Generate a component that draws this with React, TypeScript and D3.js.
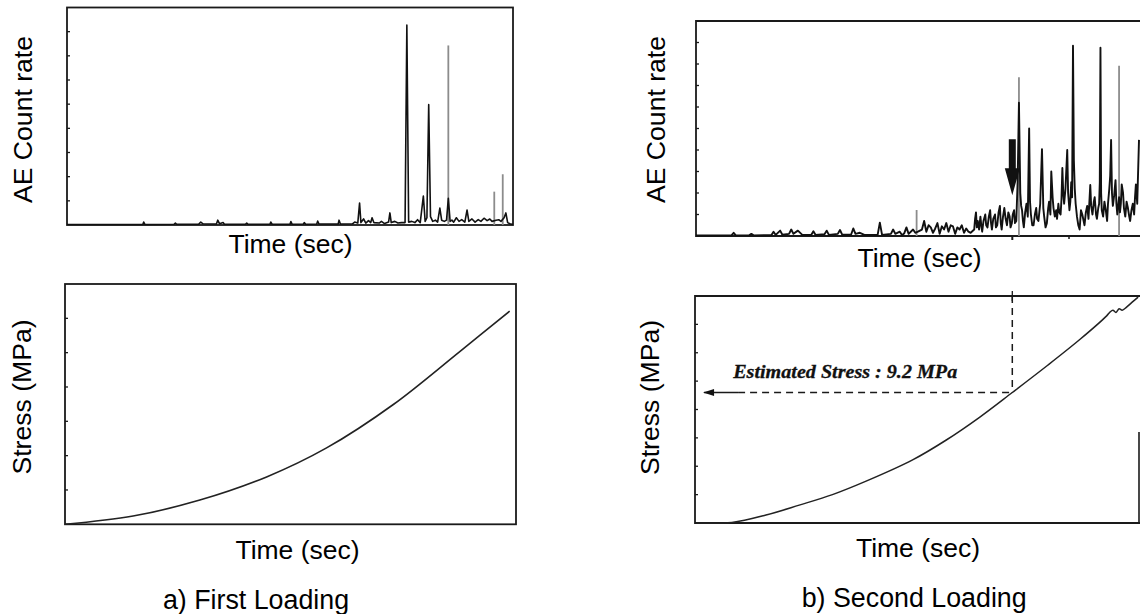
import React from "react";
import * as d3 from "d3";

type P = [number, number];

// ---------- DATA ----------
// a) First loading – AE count rate trace (time %, count-rate tick units)
const firstAeTrace: P[] = [
  [0, 0.02], [10, 0.02], [17, 0.02], [17.2, 0.12], [17.5, 0.02], [24, 0.03], [24.3, 0.08], [24.6, 0.03],
  [29.5, 0.03], [30, 0.12], [30.5, 0.05], [33.5, 0.04], [33.8, 0.2], [34.2, 0.05], [35, 0.1], [35.3, 0.03],
  [40, 0.03], [40.3, 0.08], [40.6, 0.03], [45.5, 0.03], [45.7, 0.12], [46, 0.03], [50, 0.03], [50.2, 0.14],
  [50.5, 0.03], [53, 0.04], [53.2, 0.1], [53.5, 0.03], [56, 0.04], [56.2, 0.16], [56.5, 0.04], [60.8, 0.04],
  [61, 0.2], [61.3, 0.04], [64, 0.05], [64.5, 0.12], [65.2, 0.08], [65.6, 0.91], [65.9, 0.1], [66.5, 0.25],
  [67, 0.08], [67.6, 0.18], [68.1, 0.1], [68.4, 0.3], [68.8, 0.1], [70, 0.08], [70.5, 0.15], [71.2, 0.06],
  [72.1, 0.12], [72.4, 0.5], [72.7, 0.1], [73.5, 0.15], [74.2, 0.08], [75, 0.1], [75.8, 0.1], [76.2, 8.27],
  [76.6, 0.12], [77.3, 0.15], [78, 0.1], [78.6, 0.22], [79.2, 0.1], [79.9, 1.2], [80.3, 0.15], [80.7, 0.3],
  [81.1, 4.98], [81.5, 0.35], [82, 0.15], [82.6, 0.2], [83.1, 0.12], [83.6, 0.7], [84, 0.2], [84.6, 0.15],
  [85.1, 0.2], [85.5, 1.1], [85.9, 0.15], [86.3, 0.2], [86.7, 0.12], [87.3, 0.3], [87.9, 0.15], [88.5, 0.22],
  [89.2, 0.12], [89.7, 0.62], [90.1, 0.15], [90.8, 0.25], [91.5, 0.12], [92.2, 0.22], [92.8, 0.15], [93.5, 0.28],
  [94.2, 0.18], [94.8, 0.25], [95.3, 0.15], [96.2, 0.2], [96.8, 0.22], [97.3, 0.15], [98, 0.3], [98.4, 0.5],
  [98.8, 0.1], [99.3, 0.05], [100, 0.02],
];
const firstAeLightPeaks: P[] = [[85.5, 7.43], [95.8, 1.38], [97.7, 2.1]];
const firstAeTicks = [1, 2, 3, 4, 5, 6, 7, 8];

// a) First loading – stress (MPa)
const firstStress: P[] = [
  [0, 0], [15.1, 0.48], [29.9, 1.41], [44.7, 2.76], [58.0, 4.45], [72.8, 6.98], [87.6, 10.08], [98.6, 12.42],
];
const firstStressTicks = [2, 4, 6, 8, 10, 12];

// b) Second loading – AE count rate trace
const secondAeTrace: P[] = [
  [0, 0.02], [5, 0.02], [8, 0.03], [8.5, 0.15], [9, 0.03], [12, 0.03], [12.5, 0.1], [13, 0.03], [17, 0.04],
  [17.5, 0.2], [18, 0.05], [19, 0.25], [19.5, 0.06], [21, 0.1], [21.5, 0.3], [22, 0.1], [23, 0.25], [24, 0.05],
  [26, 0.05], [26.5, 0.22], [27, 0.05], [29, 0.08], [29.5, 0.25], [30, 0.05], [32, 0.1], [32.5, 0.28], [33, 0.06],
  [35, 0.06], [35.5, 0.35], [36, 0.1], [37, 0.15], [38, 0.05], [41, 0.05], [41.5, 0.62], [42, 0.05], [44, 0.1],
  [44.5, 0.3], [45, 0.1], [46, 0.2], [46.5, 0.05], [47, 0.12], [47.5, 0.4], [48, 0.1], [49, 0.3], [49.5, 0.15],
  [50.1, 0.2], [51, 0.3], [51.5, 0.7], [52, 0.2], [52.5, 0.5], [53, 0.4], [53.5, 0.15], [54, 0.35], [54.5, 0.6],
  [55, 0.1], [55.5, 0.45], [56, 0.3], [56.5, 0.6], [57, 0.2], [57.5, 0.5], [58, 0.45], [58.5, 0.1], [59, 0.4],
  [59.5, 0.3], [60, 0.5], [60.5, 0.15], [61, 0.35], [61.5, 0.2], [62, 0.15], [62.8, 0.3], [63.0, 0.8],
  [63.2, 1.1], [63.4, 0.4], [63.6, 0.7], [63.9, 0.3], [64.2, 0.9], [64.4, 0.5], [64.6, 0.2], [64.9, 0.7],
  [65.3, 1.0], [65.5, 0.5], [65.8, 0.4], [66.1, 0.9], [66.4, 1.2], [66.6, 0.6], [66.8, 0.3], [67.1, 0.8],
  [67.5, 1.0], [67.7, 0.4], [68, 0.5], [68.3, 1.1], [68.6, 1.4], [68.8, 0.6], [69, 0.3], [69.3, 0.9],
  [69.6, 1.3], [69.9, 0.8], [70.2, 0.5], [70.5, 1.1], [70.8, 0.9], [71.0, 0.4], [71.3, 0.6], [71.5, 1.0],
  [71.8, 1.2], [72.0, 0.6], [72.3, 0.7], [72.6, 2.5], [72.9, 6.2], [73.2, 2.0], [73.4, 1.4], [73.6, 1.2],
  [73.8, 0.7], [74, 0.4], [74.3, 1.1], [74.6, 1.5], [74.9, 0.9], [75.2, 5.0], [75.4, 1.6], [75.6, 1.0],
  [75.9, 0.5], [76.2, 0.5], [76.5, 1.0], [76.8, 1.3], [77.0, 0.8], [77.3, 0.7], [77.7, 1.5], [78.1, 4.04],
  [78.4, 1.3], [78.6, 0.9], [78.9, 0.4], [79.2, 0.6], [79.5, 1.3], [79.7, 1.6], [80.0, 1.0], [80.2, 3.0],
  [80.5, 1.8], [80.7, 1.3], [81.0, 0.9], [81.3, 1.2], [81.5, 0.8], [81.8, 1.5], [82.0, 1.1], [82.3, 1.0],
  [82.5, 1.7], [82.7, 3.16], [82.9, 2.0], [83.1, 1.5], [83.4, 2.2], [83.8, 4.0], [84.0, 2.0], [84.3, 1.2],
  [84.5, 1.6], [84.7, 2.5], [84.9, 1.8], [85.1, 8.85], [85.3, 3.5], [85.5, 2.2], [85.7, 1.5], [86, 0.9],
  [86.3, 0.5], [86.6, 0.3], [86.9, 1.2], [87.2, 1.0], [87.5, 0.7], [87.7, 0.5], [88.0, 1.1], [88.3, 1.4],
  [88.6, 0.8], [89, 2.37], [89.2, 1.4], [89.5, 1.0], [89.8, 1.6], [90, 1.8], [90.3, 1.0], [90.5, 0.8],
  [90.8, 1.3], [91, 1.5], [91.15, 2.5], [91.3, 8.76], [91.45, 2.0], [91.6, 1.2], [91.9, 0.9], [92.2, 1.6],
  [92.5, 1.2], [92.8, 0.7], [93.0, 1.5], [93.3, 2.2], [93.5, 2.8], [93.7, 4.47], [93.9, 2.0], [94.1, 1.4],
  [94.4, 1.9], [94.7, 2.6], [94.9, 1.5], [95.1, 1.0], [95.3, 1.4], [95.5, 1.8], [95.7, 1.1], [95.9, 1.5],
  [96.1, 2.4], [96.4, 2.0], [96.6, 1.3], [96.9, 0.9], [97.2, 1.6], [97.5, 1.3], [97.8, 0.9], [98, 0.7],
  [98.3, 1.2], [98.6, 1.5], [98.9, 1.0], [99.1, 1.8], [99.3, 2.4], [99.6, 1.5], [100, 4.47],
];
const secondAeLightPeaks: P[] = [[49.8, 1.21], [72.9, 7.38], [95.5, 7.92]];
const secondAeTicks = [1, 2, 3, 4, 5, 6, 7, 8, 9];

// b) Second loading – stress (MPa)
const secondStress: P[] = [
  [0, 0], [8.1, 0.04], [15.8, 0.56], [23.3, 1.26], [30.8, 2.0], [38.4, 2.95], [48.9, 4.45], [56.5, 5.85],
  [64, 7.45], [71.4, 9.2], [79.1, 11.05], [86.7, 12.95], [92.7, 14.6], [93.4, 14.85], [94.1, 15.0],
  [94.8, 14.84], [95.5, 15.1], [96.2, 15.0], [97.2, 15.22], [98.6, 15.6], [99.8, 15.92],
];
const secondStressTicks = [2, 4, 6, 8, 10, 12, 14];

const estimatedTime = 71.4;
const estimatedStress = 9.2;
const arrowTopRate = 4.5;
const arrowHeadRate = 3.15;
const arrowTipRate = 1.9;
const annotationPos: P = [8.4, 10.25];
const annotationText = "Estimated Stress : 9.2 MPa";

// ---------- DRAWING ----------
const FONT = '"Liberation Sans", Arial, sans-serif';
const INK = "#1a1a1a";

function mkLine(x: d3.ScaleLinear<number, number>, y: d3.ScaleLinear<number, number>, curve?: d3.CurveFactory) {
  const l = d3.line<P>().x((d) => x(d[0])).y((d) => y(d[1]));
  if (curve) l.curve(curve);
  return l;
}

function YTicks({ x, y, ticks, len = 3 }: { x: number; y: d3.ScaleLinear<number, number>; ticks: number[]; len?: number }) {
  return (
    <g>
      {ticks.map((t) => (
        <line key={t} x1={x} x2={x + len} y1={y(t)} y2={y(t)} stroke={INK} strokeWidth={1.3} />
      ))}
    </g>
  );
}

function VLabel({ x, y, text }: { x: number; y: number; text: string }) {
  return (
    <text transform={`translate(${x},${y}) rotate(-90)`} textAnchor="middle" fontFamily={FONT} fontSize={26.6} fill="#000">
      {text}
    </text>
  );
}

function HLabel({ x, y, text, size = 26.5 }: { x: number; y: number; text: string; size?: number }) {
  return (
    <text x={x} y={y} textAnchor="middle" fontFamily={FONT} fontSize={size} fill="#000">
      {text}
    </text>
  );
}

export default function App() {
  const xA = d3.scaleLinear().domain([0, 100]).range([67, 513]);
  const yA = d3.scaleLinear().domain([0, 9]).range([225, 7.5]);
  const xB = d3.scaleLinear().domain([0, 100]).range([65, 516]);
  const yB = d3.scaleLinear().domain([0, 14]).range([524.3, 284]);
  const xC = d3.scaleLinear().domain([0, 100]).range([696, 1139]);
  const yC = d3.scaleLinear().domain([0, 10]).range([236, 21]);
  const xD = d3.scaleLinear().domain([0, 100]).range([696, 1139]);
  const yD = d3.scaleLinear().domain([0, 16]).range([523, 296]);

  const ex = xD(estimatedTime);
  const ey = yD(estimatedStress);
  const ax = xC(estimatedTime);
  const arrowSolidEnd = xD(9.5);

  return (
    <svg width={1140} height={614} style={{ position: "absolute", left: 0, top: 0, background: "#fff" }}>
      <rect x={0} y={0} width={1140} height={614} fill="#fff" />

      {/* ---- a) top: AE count rate ---- */}
      <rect x={xA(0)} y={yA(9)} width={xA(100) - xA(0)} height={yA(0) - yA(9)} fill="none" stroke={INK} strokeWidth={1.8} />
      <YTicks x={xA(0)} y={yA} ticks={firstAeTicks} />
      {firstAeLightPeaks.map((d, i) => (
        <line key={i} x1={xA(d[0])} x2={xA(d[0])} y1={yA(0)} y2={yA(d[1])} stroke="#8c8c8c" strokeWidth={1.8} />
      ))}
      <path d={mkLine(xA, yA)(firstAeTrace) || ""} fill="none" stroke="#111" strokeWidth={1.6} strokeLinejoin="round" />
      <VLabel x={32} y={119.5} text="AE Count rate" />
      <HLabel x={290.5} y={253} text="Time (sec)" />

      {/* ---- a) bottom: stress ---- */}
      <rect x={xB(0)} y={yB(14)} width={xB(100) - xB(0)} height={yB(0) - yB(14)} fill="none" stroke={INK} strokeWidth={1.8} />
      <YTicks x={xB(0)} y={yB} ticks={firstStressTicks} />
      <path d={mkLine(xB, yB, d3.curveCatmullRom)(firstStress) || ""} fill="none" stroke="#222" strokeWidth={1.6} />
      <VLabel x={31} y={397} text="Stress (MPa)" />
      <HLabel x={297.5} y={558.5} text="Time (sec)" />
      <HLabel x={256} y={608.5} text="a) First Loading" size={26.8} />

      {/* ---- b) top: AE count rate ---- */}
      <path d={`M1140,${yC(10)}H${xC(0)}V${yC(0)}H1140`} fill="none" stroke={INK} strokeWidth={1.8} />
      <YTicks x={xC(0)} y={yC} ticks={secondAeTicks} />
      <line x1={ax} x2={ax} y1={yC(0)} y2={yC(0) + 4} stroke={INK} strokeWidth={2} />
      <line x1={xC(84.2)} x2={xC(84.2)} y1={yC(0)} y2={yC(0) + 3} stroke={INK} strokeWidth={1.5} />
      {secondAeLightPeaks.map((d, i) => (
        <line key={i} x1={xC(d[0])} x2={xC(d[0])} y1={yC(0)} y2={yC(d[1])} stroke="#8c8c8c" strokeWidth={1.8} />
      ))}
      <path d={mkLine(xC, yC)(secondAeTrace) || ""} fill="none" stroke="#111" strokeWidth={1.9} strokeLinejoin="round" />
      <path
        d={`M${ax - 3.5},${yC(arrowTopRate)}H${ax + 3.5}V${yC(arrowHeadRate)}H${ax + 7.5}L${ax},${yC(arrowTipRate)}L${ax - 7.5},${yC(arrowHeadRate)}H${ax - 3.5}Z`}
        fill="#111"
      />
      <VLabel x={665} y={119.5} text="AE Count rate" />
      <HLabel x={919.5} y={266.5} text="Time (sec)" />

      {/* ---- b) bottom: stress ---- */}
      <path d={`M1140,${yD(16)}H${xD(0) - 1}V${yD(0)}H1140`} fill="none" stroke={INK} strokeWidth={1.8} />
      <line x1={1139} x2={1139} y1={432} y2={yD(0)} stroke={INK} strokeWidth={1.6} />
      <YTicks x={xD(0) - 1} y={yD} ticks={secondStressTicks} />
      <path d={mkLine(xD, yD, d3.curveCatmullRom)(secondStress) || ""} fill="none" stroke="#222" strokeWidth={1.5} />
      <line x1={ex} x2={ex} y1={yD(16) - 5} y2={yD(16) + 5} stroke={INK} strokeWidth={1.3} />
      <line x1={ex} x2={ex} y1={yD(16)} y2={ey} stroke={INK} strokeWidth={1.5} strokeDasharray="7,5" />
      <line x1={arrowSolidEnd} x2={ex} y1={ey} y2={ey} stroke={INK} strokeWidth={1.5} strokeDasharray="7,5" />
      <line x1={xD(1.8)} x2={arrowSolidEnd} y1={ey} y2={ey} stroke={INK} strokeWidth={1.5} />
      <path d={`M${xD(1.6)},${ey}L${xD(1.6) + 11},${ey - 3.5}L${xD(1.6) + 11},${ey + 3.5}Z`} fill="#111" />
      <text
        x={xD(annotationPos[0])}
        y={yD(annotationPos[1])}
        fontFamily='"Liberation Serif", "Times New Roman", serif'
        fontStyle="italic"
        fontWeight="bold"
        fontSize={18.5}
        textLength={224}
        lengthAdjust="spacingAndGlyphs"
        fill="#111"
        stroke="#111"
        strokeWidth={0.3}
      >
        {annotationText}
      </text>
      <VLabel x={659} y={397.5} text="Stress (MPa)" />
      <HLabel x={918} y={556.7} text="Time (sec)" />
      <HLabel x={914.2} y={606.5} text="b) Second Loading" size={26.8} />
    </svg>
  );
}
